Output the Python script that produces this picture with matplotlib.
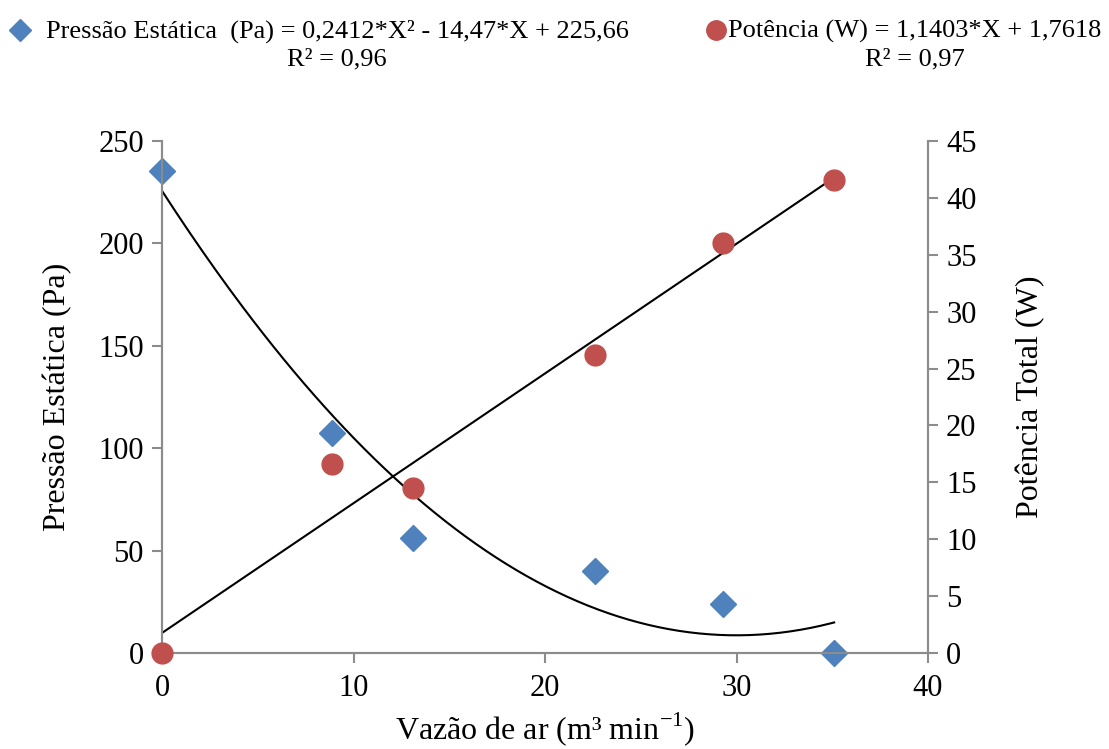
import matplotlib
matplotlib.use("Agg")
import matplotlib.pyplot as plt
import numpy as np

# Data
vazao = [0.0, 8.9, 13.1, 22.6, 29.3, 35.1]
pressao = [235.5, 107.5, 56.0, 40.0, 24.0, 0.0]
potencia = [0.0, 16.6, 14.5, 26.2, 36.0, 41.6]
poly_coef = [0.2412, -14.47, 225.66]
lin_coef = [1.1403, 1.7618]

blue = "#4F81BD"
red = "#C0504D"
gray = "#8C8C8C"

plt.rcParams['font.family'] = ['Liberation Serif', 'DejaVu Serif']
plt.rcParams['mathtext.fontset'] = 'custom'
plt.rcParams['mathtext.rm'] = 'Liberation Serif'

fig = plt.figure(figsize=(11.09, 7.49), dpi=100)
ax = fig.add_axes([162/1109, 1-653/749, (928-162)/1109, (653-141)/749])
ax2 = ax.twinx()

xs = np.linspace(0, max(vazao), 200)
ax.plot(xs, np.polyval(poly_coef, xs), color='black', lw=1.5, zorder=2)
ax2.plot(xs, np.polyval(lin_coef, xs), color='black', lw=1.5, zorder=2)

ax.plot(vazao, pressao, 'D', color=blue, ms=13, mec=blue, zorder=3, clip_on=False)
ax2.plot(vazao, potencia, 'o', color=red, ms=15, mec=red, zorder=3, clip_on=False)

ax.set_xlim(0, 40)
ax.set_ylim(0, 250)
ax2.set_ylim(0, 45)
ax.set_xticks([0, 10, 20, 30, 40])
ax.set_yticks([0, 50, 100, 150, 200, 250])
ax2.set_yticks(range(0, 50, 5))

for a in (ax, ax2):
    a.spines['top'].set_visible(False)
    for s in ('left', 'right', 'bottom'):
        a.spines[s].set_color(gray)
        a.spines[s].set_linewidth(1.5)
    a.tick_params(axis='both', which='major', direction='out', length=7, width=1.5,
                  color=gray, labelsize=22, pad=6)
ax.tick_params(axis='x', pad=8)

ax.set_xlabel("Vazão de ar (m³ min$^{\\mathregular{-1}}$)", fontsize=23, labelpad=5)
ax.set_ylabel("Pressão Estática (Pa)", fontsize=23, labelpad=19)
ax2.set_ylabel("Potência Total (W)", fontsize=23, labelpad=28)

# Legend (top)
fig.lines.append(plt.Line2D([20/1109], [1-30/749], marker='D', color=blue, ms=11,
                            ls='none', transform=fig.transFigure))
fig.lines.append(plt.Line2D([716/1109], [1-30/749], marker='o', color=red, ms=14,
                            ls='none', transform=fig.transFigure))
fig.text(337/1109, 1-45/749, "Pressão Estática  (Pa) = 0,2412*X² - 14,47*X + 225,66\nR² = 0,96",
         ha='center', va='center', fontsize=19, linespacing=1.35, multialignment='center')
fig.text(915/1109, 1-45/749, "Potência (W) = 1,1403*X + 1,7618\nR² = 0,97",
         ha='center', va='center', fontsize=19, linespacing=1.35, multialignment='center')

fig.savefig("out.png", dpi=100)
